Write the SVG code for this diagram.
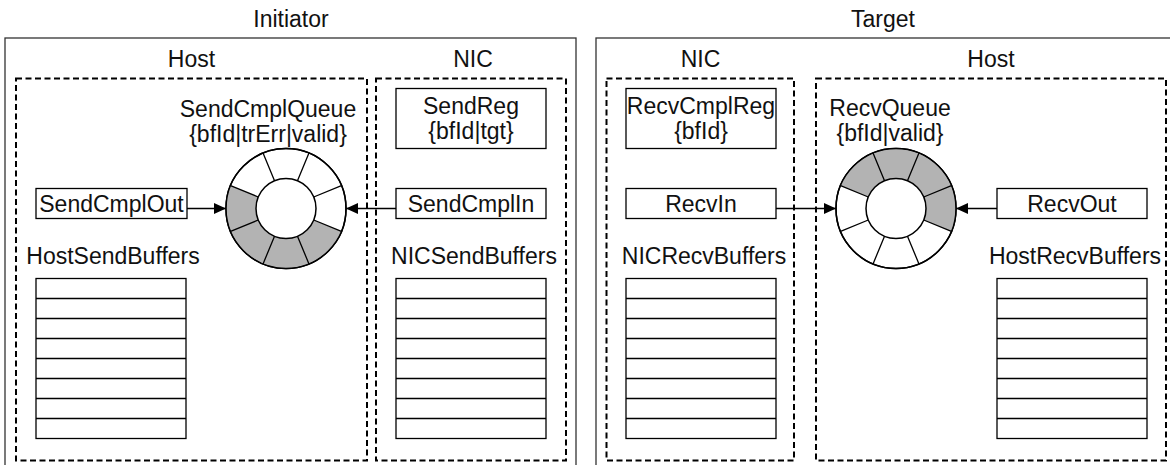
<svg xmlns="http://www.w3.org/2000/svg" width="1170" height="465" viewBox="0 0 1170 465">
<defs>
<style>
text{font-family:"Liberation Sans",Arial,sans-serif;font-size:23px;fill:#111;text-anchor:middle}
.outer{fill:none;stroke:#333;stroke-width:1.3}
.dash{fill:none;stroke:#000;stroke-width:2;stroke-dasharray:6 3.5}
.box{fill:#fff;stroke:#000;stroke-width:1.3}
.row{stroke:#000;stroke-width:1.3}
.ring{fill:#fff;stroke:#000;stroke-width:1.5}
.gray{fill:#b3b3b3;stroke:none}
.div{stroke:#000;stroke-width:1.3;fill:none}
.conn{stroke:#000;stroke-width:1.3;fill:none;marker-end:url(#arr)}
</style>
<marker id="arr" viewBox="0 0 12 11" refX="12" refY="5.5" markerWidth="12" markerHeight="11" markerUnits="userSpaceOnUse" orient="auto">
<path d="M0 0 L12 5.5 L0 11 Z" fill="#000"/>
</marker>
<g id="ringdiv">
<path class="div" d="M27.72 11.48 L55.43 22.96 M11.48 27.72 L22.96 55.43 M-11.48 27.72 L-22.96 55.43 M-27.72 11.48 L-55.43 22.96 M-27.72 -11.48 L-55.43 -22.96 M-11.48 -27.72 L-22.96 -55.43 M11.48 -27.72 L22.96 -55.43 M27.72 -11.48 L55.43 -22.96"/>
</g>
<g id="rows">
<rect class="box" x="0" y="0" width="150" height="160"/>
<path class="row" d="M0 20 H150 M0 40 H150 M0 60 H150 M0 80 H150 M0 100 H150 M0 120 H150 M0 140 H150"/>
</g>
</defs>
<rect width="1170" height="465" fill="#fff"/>

<g id="initiator">
<rect class="outer" x="5" y="38" width="571" height="440"/>
<text x="291" y="27">Initiator</text>
</g>
<g id="target">
<rect class="outer" x="596" y="38" width="600" height="440"/>
<text x="883" y="27">Target</text>
</g>

<g id="initiator-host">
<rect class="dash" x="16" y="78.5" width="351" height="382"/>
<text x="191.5" y="67">Host</text>
</g>
<g id="initiator-nic">
<rect class="dash" x="376" y="78.5" width="190" height="382"/>
<text x="473" y="67">NIC</text>
</g>
<g id="target-nic">
<rect class="dash" x="606.5" y="78.5" width="187.5" height="382"/>
<text x="700.5" y="67">NIC</text>
</g>
<g id="target-host">
<rect class="dash" x="816" y="78.5" width="350" height="382"/>
<text x="991" y="67">Host</text>
</g>

<g id="SendCmplQueue">
<text x="268" y="117">SendCmplQueue</text>
<text x="268" y="142">{bfId|trErr|valid}</text>
<g transform="translate(286 208.5)">
<circle class="ring" r="60"/>
<path class="gray" d="M55.43 22.96 A60 60 0 0 1 -55.43 -22.96 L-27.72 -11.48 A30 30 0 0 0 27.72 11.48 Z"/>
<circle r="60" fill="none" stroke="#000" stroke-width="1.5"/>
<circle class="ring" r="30"/>
<use href="#ringdiv"/>
</g>
</g>

<g id="SendCmplOut">
<rect class="box" x="36" y="188.5" width="151" height="30"/>
<text x="111.5" y="211.5">SendCmplOut</text>
</g>
<g id="HostSendBuffers">
<text x="113" y="264">HostSendBuffers</text>
<use href="#rows" x="36" y="278.5"/>
</g>

<g id="SendReg">
<rect class="box" x="396" y="88.5" width="150" height="60"/>
<text x="471" y="114">SendReg</text>
<text x="471" y="139">{bfId|tgt}</text>
</g>
<g id="SendCmplIn">
<rect class="box" x="396" y="188.5" width="150" height="30"/>
<text x="471" y="211.5">SendCmplIn</text>
</g>
<g id="NICSendBuffers">
<text x="474" y="264">NICSendBuffers</text>
<use href="#rows" x="396" y="278.5"/>
</g>

<g id="RecvCmplReg">
<rect class="box" x="626" y="88.5" width="150" height="60"/>
<text x="701" y="114">RecvCmplReg</text>
<text x="701" y="139">{bfId}</text>
</g>
<g id="RecvIn">
<rect class="box" x="626" y="188.5" width="150" height="30"/>
<text x="701" y="211.5">RecvIn</text>
</g>
<g id="NICRecvBuffers">
<text x="704" y="264">NICRecvBuffers</text>
<use href="#rows" x="626" y="278.5"/>
</g>

<g id="RecvQueue">
<text x="890" y="116">RecvQueue</text>
<text x="890" y="141">{bfId|valid}</text>
<g transform="translate(896 208.5)">
<circle class="ring" r="60"/>
<path class="gray" d="M-55.43 -22.96 A60 60 0 0 1 55.43 22.96 L27.72 11.48 A30 30 0 0 0 -27.72 -11.48 Z"/>
<circle r="60" fill="none" stroke="#000" stroke-width="1.5"/>
<circle class="ring" r="30"/>
<use href="#ringdiv"/>
</g>
</g>
<g id="RecvOut">
<rect class="box" x="997" y="188.5" width="150" height="30"/>
<text x="1072" y="211.5">RecvOut</text>
</g>
<g id="HostRecvBuffers">
<text x="1075" y="264">HostRecvBuffers</text>
<use href="#rows" x="997" y="278.5"/>
</g>

<g id="connectors">
<path class="conn" d="M187 208.5 L226 208.5"/>
<path class="conn" d="M396 208.5 L346 208.5"/>
<path class="conn" d="M776 208.5 L836 208.5"/>
<path class="conn" d="M997 208.5 L956 208.5"/>
</g>
</svg>
